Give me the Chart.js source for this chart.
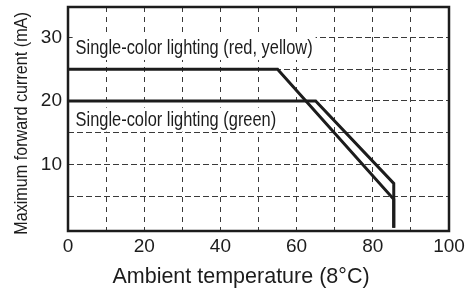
<!DOCTYPE html>
<html>
<head>
<meta charset="utf-8">
<script src="https://cdn.jsdelivr.net/npm/chart.js@4/dist/chart.umd.min.js"></script>
<style>
  html, body { margin: 0; padding: 0; background: #fff; }
  #wrap { width: 467px; height: 290px; }
</style>
</head>
<body>
<div id="wrap"><canvas id="derating"></canvas></div>
<script>
/* ─── DATA ─── */
const tempRedYellow    = [0, 55, 85.5, 85.5];
const currentRedYellow = [25, 25, 4.5, 0];
const tempGreen        = [0, 65, 85.5, 85.5];
const currentGreen     = [20, 20, 7, 0];

const xTicks = [0, 10, 20, 30, 40, 50, 60, 70, 80, 90, 100];
const yTicks = [5, 10, 15, 20, 25, 30];

const noteTexts = ['Single-color lighting (red, yellow)', 'Single-color lighting (green)'];
const xTitle = 'Ambient temperature (8°C)';
const yTitle = 'Maximum forward current (mA)';

const INK = '#1c1c1c';
const SANS = "'Liberation Sans', Arial, sans-serif";
// no narrow face installed, so squeeze the regular one sideways
const NARROW = 0.82;

const toPoints = (xs, ys) => xs.map((x, i) => ({ x, y: ys[i] }));

function narrowText(ctx, text, x, y) {
  ctx.save();
  ctx.translate(x, y);
  ctx.scale(NARROW, 1);
  ctx.fillText(text, 0, 0);
  ctx.restore();
  return ctx.measureText(text).width * NARROW;
}

/* white-backed labels, axis titles and plot frame */
const notesPlugin = {
  id: 'notes',
  beforeDatasetsDraw(chart) {
    const { ctx, scales: { x, y } } = chart;
    const spots = [{ x: 2, y: 27.4 }, { x: 2, y: 16.1 }];
    ctx.save();
    ctx.font = '20px ' + SANS;
    ctx.textBaseline = 'alphabetic';
    noteTexts.forEach((t, i) => {
      const px = x.getPixelForValue(spots[i].x);
      const py = y.getPixelForValue(spots[i].y);
      const w = ctx.measureText(t).width * NARROW;
      ctx.fillStyle = '#fff';
      ctx.fillRect(px - 3, py - 18, w + 6, 24);
      ctx.fillStyle = INK;
      narrowText(ctx, t, px, py);
    });
    ctx.restore();
  },
  afterDatasetsDraw(chart) {
    const { ctx, chartArea: a } = chart;
    ctx.save();
    ctx.strokeStyle = INK;
    ctx.lineWidth = 2.5;
    ctx.strokeRect(a.left, a.top, a.right - a.left, a.bottom - a.top);

    ctx.fillStyle = INK;
    ctx.textAlign = 'center';
    ctx.textBaseline = 'alphabetic';
    ctx.font = '21.5px ' + SANS;
    ctx.fillText(xTitle, 241, 283);

    ctx.font = '19px ' + SANS;
    ctx.translate(27, 123.5);
    ctx.rotate(-Math.PI / 2);
    ctx.scale(0.85, 1);
    ctx.fillText(yTitle, 0, 0);
    ctx.restore();
  }
};

const lineStyle = {
  borderColor: INK,
  borderWidth: 3,
  pointRadius: 0,
  fill: false,
  tension: 0,
  borderJoinStyle: 'miter',
};

new Chart(document.getElementById('derating'), {
  type: 'line',
  data: {
    datasets: [
      { label: 'red, yellow', data: toPoints(tempRedYellow, currentRedYellow), ...lineStyle },
      { label: 'green',       data: toPoints(tempGreen, currentGreen),         ...lineStyle },
    ]
  },
  options: {
    responsive: true,
    maintainAspectRatio: false,
    animation: false,
    layout: { padding: { left: 0, top: 7, right: 18, bottom: 0 } },
    plugins: { legend: { display: false }, tooltip: { enabled: false } },
    scales: {
      x: {
        type: 'linear',
        min: 0,
        max: 100,
        afterBuildTicks: s => { s.ticks = xTicks.map(v => ({ value: v })); },
        afterFit: s => { s.height = 59; s.paddingLeft = 0; s.paddingRight = 0; },
        grid: { color: '#3a3a3a', lineWidth: 1, drawTicks: false },
        border: { display: false, dash: [5, 5] },
        ticks: {
          color: INK,
          padding: 4,
          font: { family: SANS, size: 19 },
          callback: v => (v % 20 === 0 ? String(v) : ''),
          maxRotation: 0,
          autoSkip: false,
        }
      },
      y: {
        type: 'linear',
        min: -0.5,
        max: 34.8,
        afterBuildTicks: s => { s.ticks = yTicks.map(v => ({ value: v })); },
        afterFit: s => { s.width = 68; s.paddingTop = 0; s.paddingBottom = 0; },
        grid: { color: '#3a3a3a', lineWidth: 1, drawTicks: false },
        border: { display: false, dash: [6, 3] },
        ticks: {
          color: INK,
          padding: 6,
          font: { family: SANS, size: 19 },
          callback: v => (v % 10 === 0 ? String(v) : ''),
        }
      }
    }
  },
  plugins: [notesPlugin]
});
</script>
</body>
</html>
